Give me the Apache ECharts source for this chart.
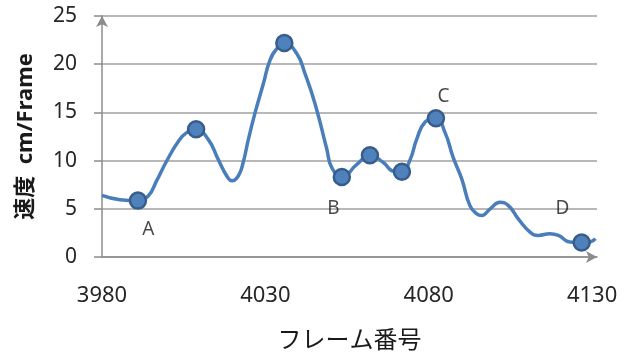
<!DOCTYPE html>
<html><head><meta charset="utf-8">
<script src="https://cdn.jsdelivr.net/npm/echarts@6/dist/echarts.min.js"></script>
<style>html,body{margin:0;padding:0;background:#fff}#c{width:632px;height:358px}</style>
</head><body><div id="c"></div>
<script>
// Curve data (frame number, speed cm/Frame)
const frames = [3980, 3985.5, 3991, 3994.2, 3996.7, 3999.8, 4003.4, 4005.9, 4008.8, 4012.5, 4015.6, 4018.2, 4019.8, 4021.7, 4023.2, 4024.8, 4026.8, 4029.4, 4031.4, 4033.5, 4035.8, 4039.6, 4042.1, 4045.2, 4048.8, 4050.3, 4053.4, 4058, 4062, 4066.1, 4069.2, 4071.8, 4074.3, 4076.3, 4078.9, 4082.2, 4085, 4087.5, 4090.1, 4092.6, 4094.7, 4096.2, 4098.8, 4101.8, 4104.4, 4107.4, 4111, 4113.6, 4117.1, 4119.7, 4123.2, 4126.8, 4129.4, 4131];
const speeds = [6.4, 5.95, 5.85, 6.36, 7.9, 9.96, 12.0, 12.9, 13.25, 12.2, 10.1, 8.4, 7.9, 8.4, 9.8, 12.2, 14.9, 18.0, 20.4, 21.6, 22.2, 21.1, 19.05, 15.9, 11.2, 9.3, 8.3, 9.6, 10.55, 9.8, 8.9, 8.85, 10.1, 12.2, 14.0, 14.4, 12.9, 10.3, 8.1, 5.33, 4.48, 4.3, 5.0, 5.68, 5.33, 3.96, 2.59, 2.24, 2.42, 2.24, 1.56, 1.5, 1.56, 1.9];
// Marked points
const markerFrames = [3991, 4008.8, 4035.8, 4053.4, 4062, 4071.8, 4082.2, 4126.8];
const markerSpeeds = [5.85, 13.25, 22.2, 8.3, 10.55, 8.85, 14.4, 1.5];
// Annotations
const noteNames = ['A', 'B', 'C', 'D'];
const noteFrames = [3994.2, 4050.8, 4084.5, 4120.9];
const noteSpeeds = [2.83, 4.99, 16.65, 5.06];
// Axis ticks
const xTicks = [3980, 4030, 4080, 4130];
const yTicks = [0, 5, 10, 15, 20, 25];

const FONT = "'Noto Sans', 'Noto Sans CJK JP', sans-serif";
const chart = echarts.init(document.getElementById('c'), null, {renderer: 'canvas'});
chart.setOption({
  animation: false,
  backgroundColor: '#ffffff',
  grid: {left: 102, right: 35, top: 16, bottom: 100},
  xAxis: {
    type: 'value',
    min: xTicks[0], max: 4131.5, interval: xTicks[1] - xTicks[0],
    name: 'フレーム番号', nameLocation: 'middle', nameGap: 72,
    nameTextStyle: {fontFamily: FONT, fontSize: 24, color: '#1a1a1a'},
    axisLine: {show: true, lineStyle: {color: '#8c8c8c', width: 1.5}, symbol: ['none', 'arrow'], symbolSize: [9, 11]},
    axisTick: {show: false},
    splitLine: {show: false},
    axisLabel: {
      margin: 28, fontFamily: FONT, fontSize: 22, color: '#262626',
      formatter: v => xTicks.some(t => Math.abs(t - v) < 0.01) ? String(Math.round(v)) : ''
    }
  },
  yAxis: {
    type: 'value', min: yTicks[0], max: yTicks[yTicks.length - 1], interval: yTicks[1] - yTicks[0],
    name: '速度  cm/Frame', nameLocation: 'middle', nameGap: 65, nameRotate: 90,
    nameTextStyle: {fontFamily: FONT, fontSize: 22, fontWeight: 'bold', color: '#1a1a1a'},
    axisLine: {show: true, lineStyle: {color: '#8c8c8c', width: 1.5}, symbol: ['none', 'arrow'], symbolSize: [9, 11]},
    axisTick: {show: true, length: 8, lineStyle: {color: '#8c8c8c', width: 1.5}},
    splitLine: {show: true, lineStyle: {color: '#a0a0a0', width: 1.5}},
    axisLabel: {margin: 25, fontFamily: FONT, fontSize: 21, color: '#262626'}
  },
  series: [
    {
      type: 'line', smooth: 0.5, showSymbol: false, clip: false, z: 2,
      lineStyle: {color: '#4a7ebb', width: 3.5},
      data: frames.map((f, i) => [f, speeds[i]])
    },
    {
      type: 'scatter', symbol: 'circle', symbolSize: 16, z: 3, clip: false,
      itemStyle: {color: '#4f81bd', borderColor: '#385d8a', borderWidth: 2.5, opacity: 1},
      data: markerFrames.map((f, i) => [f, markerSpeeds[i]])
    },
    {
      type: 'scatter', symbolSize: 0, z: 4, silent: true,
      label: {show: true, position: 'inside', fontFamily: FONT, fontSize: 19, color: '#1a1a1a',
        formatter: p => p.data.name},
      data: noteNames.map((n, i) => ({name: n, value: [noteFrames[i], noteSpeeds[i]]}))
    }
  ]
});
</script></body></html>
